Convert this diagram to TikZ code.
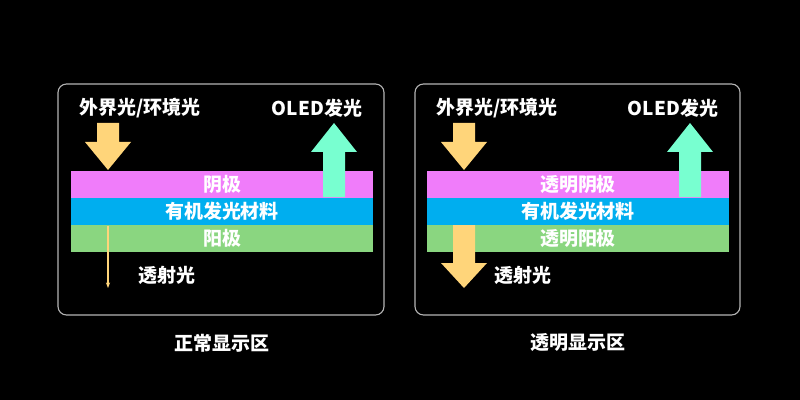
\documentclass[tikz,border=0pt]{standalone}
\usepackage{fontspec}
\setmainfont{Noto Sans CJK SC}
\usetikzlibrary{arrows.meta}
\definecolor{panelgray}{HTML}{B4B4B4}
\definecolor{cathodepink}{HTML}{F07CFA}
\definecolor{emitblue}{HTML}{00AEEF}
\definecolor{anodegreen}{HTML}{8AD680}
\definecolor{lightyellow}{HTML}{FFD57A}
\definecolor{oledmint}{HTML}{78FFD0}
\newcommand{\diagfont}{\fontsize{13.5}{16}\selectfont\bfseries}

\begin{document}
\begin{tikzpicture}[x=0.025cm, y=-0.025cm,
    panel/.style={draw=panelgray, line width=0.8pt, rounded corners=6pt},
    layer/.style={minimum width=7.55cm, minimum height=0.675cm, inner sep=0pt,
      text=white, font=\diagfont},
    lbl/.style={text=white, font=\diagfont, inner sep=0pt}]
  % background
  \fill[black] (0,0) rectangle (800,400);

  % Normal display area
  \draw[panel] (58,84) rectangle (384,315);
  \node[layer, fill=cathodepink] (cathodeL) at (222,184.5) {阴极};
  \node[layer, fill=emitblue] (emitL) at (222,211.5) {有机发光材料};
  \node[layer, fill=anodegreen] (anodeL) at (222,238.5) {阳极};
  \fill[lightyellow] (97,123) -- (119,123) -- (119,142) -- (131,142) -- (108,170)
    -- (85,142) -- (97,142) -- cycle;
  \fill[oledmint] (323,197) -- (323,152) -- (311,152) -- (334,123) -- (357,152)
    -- (345,152) -- (345,197) -- cycle;
  \coordinate (thinTop) at (108,226);
  \coordinate (thinEnd) at (108,288);
  \draw[lightyellow, line width=0.8pt, -{Stealth[length=4pt, width=3pt]}] (thinTop) -- (thinEnd);
  \node[lbl] (ambientL) at (140,108) {外界光/环境光};
  \node[lbl] (oledL) at (317,108) {OLED发光};
  \node[lbl] (transL) at (167,275) {透射光};
  \node[lbl] (titleL) at (222,343) {正常显示区};

  % Transparent display area
  \draw[panel] (415,84) rectangle (740,315);
  \node[layer, fill=cathodepink] (cathodeR) at (578,184.5) {透明阴极};
  \node[layer, fill=emitblue] (emitR) at (578,211.5) {有机发光材料};
  \node[layer, fill=anodegreen] (anodeR) at (578,238.5) {透明阳极};
  \fill[lightyellow] (453,123) -- (475,123) -- (475,142) -- (487,142) -- (464,170)
    -- (441,142) -- (453,142) -- cycle;
  \fill[oledmint] (679,197) -- (679,152) -- (667,152) -- (690,123) -- (713,152)
    -- (701,152) -- (701,197) -- cycle;
  \fill[lightyellow] (453,225) -- (475,225) -- (475,263) -- (487,263) -- (464,288)
    -- (441,263) -- (453,263) -- cycle;
  \node[lbl] (ambientR) at (497,108) {外界光/环境光};
  \node[lbl] (oledR) at (673,108) {OLED发光};
  \node[lbl] (transR) at (523,275) {透射光};
  \node[lbl] (titleR) at (578,343) {透明显示区};
\end{tikzpicture}
\end{document}
